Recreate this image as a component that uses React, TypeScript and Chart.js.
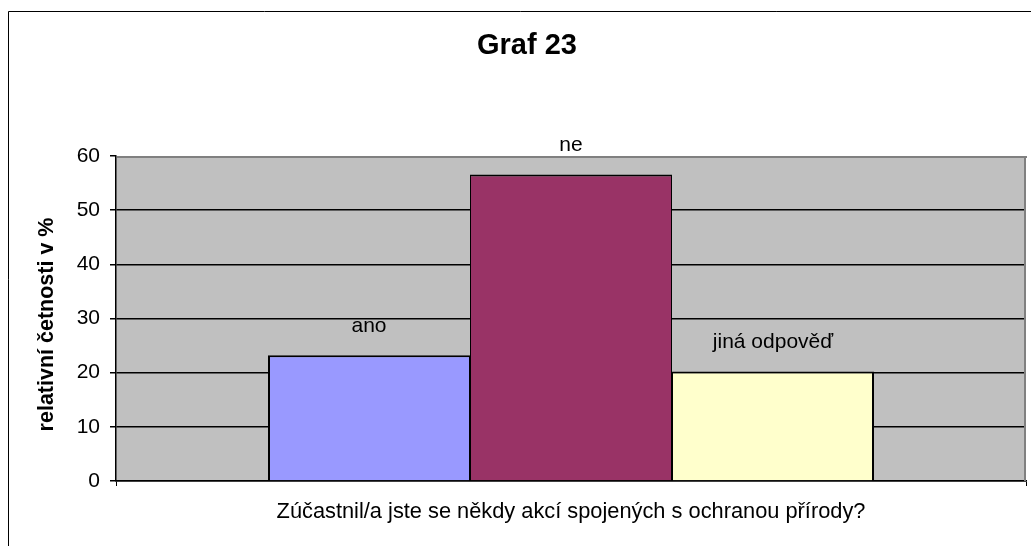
import React, { useEffect, useRef } from "react";
import { Chart, registerables } from "chart.js";

Chart.register(...registerables);

// ---- data ----
const categories = [""];
const seriesNames = ["ano", "ne", "jiná odpověď"];
const anoValues = [23.2];
const neValues = [56.6];
const jinaValues = [20.2];
const seriesColors = ["#9999FF", "#993366", "#FFFFCC"];
const yTickValues = [0, 10, 20, 30, 40, 50, 60];
const chartTitle = "Graf 23";
const yAxisTitle = "relativní četnosti v %";
const xAxisTitle = "Zúčastnil/a jste se někdy akcí spojených s ochranou přírody?";

const FONT = "Arial, 'Liberation Sans', sans-serif";

const framePlugin = {
  id: "frameAndPlot",
  beforeDraw(chart: any) {
    const { ctx, chartArea } = chart;
    ctx.save();
    ctx.fillStyle = "#ffffff";
    ctx.fillRect(0, 0, chart.width, chart.height);
    // outer chart frame
    ctx.strokeStyle = "#000000";
    ctx.lineWidth = 1;
    ctx.beginPath();
    ctx.moveTo(8.5, chart.height + 2);
    ctx.lineTo(8.5, 11.5);
    ctx.lineTo(chart.width + 2, 11.5);
    ctx.stroke();
    // plot area background
    ctx.fillStyle = "#C0C0C0";
    ctx.fillRect(chartArea.left, chartArea.top, chartArea.right - chartArea.left, chartArea.bottom - chartArea.top);
    ctx.restore();
  },
  afterDatasetsDraw(chart: any) {
    const { ctx, chartArea } = chart;
    ctx.save();
    // plot area border (top + right), grey
    ctx.fillStyle = "#808080";
    ctx.fillRect(chartArea.left + 1, chartArea.top, chartArea.right - chartArea.left, 2);
    ctx.fillRect(chartArea.right - 2, chartArea.top, 2, chartArea.bottom - chartArea.top);
    // series name labels above bars
    ctx.fillStyle = "#000000";
    ctx.font = `21px ${FONT}`;
    ctx.textAlign = "center";
    ctx.textBaseline = "middle";
    chart.data.datasets.forEach((ds: any, i: number) => {
      const meta = chart.getDatasetMeta(i);
      meta.data.forEach((bar: any) => {
        ctx.fillText(ds.label, bar.x, bar.y - 29);
      });
    });
    ctx.restore();
  },
};

export default function App() {
  const canvasRef = useRef<HTMLCanvasElement | null>(null);

  useEffect(() => {
    const canvas = canvasRef.current;
    if (!canvas) return;
    const valueLists = [anoValues, neValues, jinaValues];
    const borderWidths = [
      { top: 2, left: 2, right: 1, bottom: 0 },
      { top: 2, left: 1, right: 1, bottom: 0 },
      { top: 2, left: 1, right: 2, bottom: 0 },
    ];
    const chart = new Chart(canvas, {
      type: "bar",
      data: {
        labels: categories,
        datasets: seriesNames.map((name, i) => ({
          label: name,
          data: valueLists[i],
          backgroundColor: seriesColors[i],
          borderColor: "#000000",
          borderWidth: borderWidths[i] as any,
          borderSkipped: "bottom" as any,
          inflateAmount: 0,
          categoryPercentage: 606 / 910,
          barPercentage: 1,
        })),
      },
      options: {
        responsive: false,
        animation: false,
        devicePixelRatio: 1,
        layout: { padding: { left: 28, right: 5, top: 0, bottom: 0 } },
        plugins: {
          legend: { display: false },
          tooltip: { enabled: false },
          title: {
            display: true,
            text: chartTitle,
            color: "#000000",
            font: { family: FONT, size: 29, weight: "bold" },
            padding: { top: 28.6, bottom: 92.6 },
          },
        },
        scales: {
          x: {
            grid: {
              display: true,
              drawOnChartArea: false,
              drawTicks: true,
              tickLength: 5,
              color: "#000000",
              lineWidth: 1,
            },
            border: { display: true, color: "#000000", width: 1.5 },
            ticks: { display: false },
            title: {
              display: true,
              text: xAxisTitle,
              color: "#000000",
              font: { family: FONT, size: 21.8 },
              padding: { top: 0, bottom: 21.2 },
            },
            afterFit: (scale: any) => {
              scale.height = 65;
            },
          },
          y: {
            min: 0,
            max: 60,
            afterBuildTicks: (scale: any) => {
              scale.ticks = yTickValues.map((v) => ({ value: v }));
            },
            grid: {
              color: (c: any) => (c.tick && c.tick.value === 60 ? "rgba(0,0,0,0)" : "#000000"),
              tickColor: "#000000",
              lineWidth: 1.5,
              tickLength: 6,
            },
            border: { display: true, color: "#000000", width: 1.5 },
            ticks: {
              color: "#000000",
              font: { family: FONT, size: 21 },
              padding: 10,
            },
            title: {
              display: true,
              text: yAxisTitle + "  ",
              color: "#000000",
              font: { family: FONT, size: 21.5, weight: "bold" },
              padding: { top: 6.6, bottom: 0 },
            },
            afterFit: (scale: any) => {
              scale.width = 88;
            },
          },
        },
      },
      plugins: [framePlugin],
    });
    return () => chart.destroy();
  }, []);

  return (
    <canvas
      ref={canvasRef}
      width={1031}
      height={546}
      style={{ position: "absolute", left: 0, top: 0, width: 1031, height: 546, display: "block" }}
    />
  );
}
